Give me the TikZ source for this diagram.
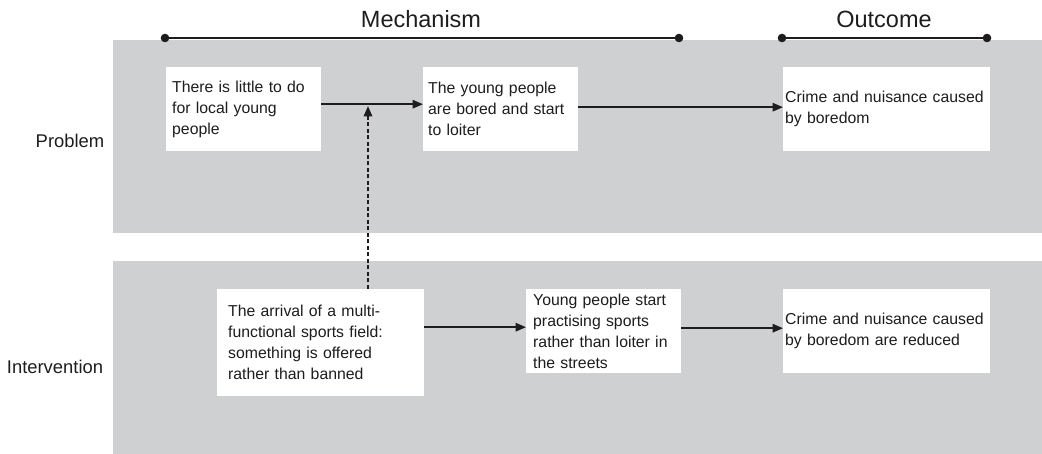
\documentclass[tikz,border=0pt]{standalone}
\usepackage{fontspec}
\setmainfont{Liberation Sans}
\usetikzlibrary{arrows.meta,calc}
\definecolor{band}{RGB}{207,208,210}
\definecolor{ink}{RGB}{30,28,29}
\begin{document}
\begin{tikzpicture}[x=1pt,y=-1pt,
  bandbox/.style={fill=band,draw=none},
  boxnode/.style={fill=white,draw=none,anchor=north west,align=left,inner ysep=0pt,
    text=ink,font=\fontsize{15.8}{21}\selectfont},
  title/.style={text=ink,font=\fontsize{23.5}{28}\selectfont,inner sep=0pt},
  rowlabel/.style={text=ink,font=\fontsize{18.4}{22}\selectfont,inner sep=0pt},
  arr/.style={draw=ink,line width=1.8pt,-{Triangle[length=10.5pt,width=8.5pt]}},
  dasharr/.style={draw=ink,line width=1.8pt,dash pattern=on 4pt off 2.5pt,-{Triangle[length=10.5pt,width=8.5pt]}},
  span/.style={draw=ink,line width=1.8pt},
  dot/.style={fill=ink}]
\useasboundingbox (0,0) rectangle (1042,454);
% bands
\fill[bandbox] (113,40) rectangle (1042,233);
\fill[bandbox] (113,261) rectangle (1042,454);
% titles
\node[title] (tm) at (421,19) {Mechanism};
\node[title] (to) at (884,19) {Outcome};
\coordinate (m1) at (165,38);
\coordinate (m2) at (679,38);
\coordinate (o1) at (782,38);
\coordinate (o2) at (987,38);
\draw[span] (m1) -- (m2);
\draw[span] (o1) -- (o2);
\foreach \p in {m1,m2,o1,o2} \fill[dot] (\p) circle (4.3pt);
% row labels
\node[rowlabel] (lp) at (70,141) {Problem};
\node[rowlabel] (li) at (55,367) {Intervention};
% boxes
\node[boxnode,minimum height=84pt,inner xsep=6pt,text width=143pt] (b1) at (166,67)
  {There is little to do\\for local young\\people};
\node[boxnode,minimum height=84pt,inner xsep=5pt,text width=145pt] (b2) at (423,67)
  {The young people\\are bored and start\\to loiter};
\node[boxnode,minimum height=84pt,inner xsep=2pt,text width=203pt] (b3) at (783,67)
  {Crime and nuisance caused\\by boredom};
\node[boxnode,minimum height=107pt,inner xsep=11pt,text width=185pt] (b4) at (217,289)
  {The arrival of a multi-\\functional sports field:\\something is offered\\rather than banned};
\node[boxnode,minimum height=84pt,inner xsep=7pt,text width=141pt] (b5) at (526,289)
  {Young people start\\practising sports\\rather than loiter in\\the streets};
\node[boxnode,minimum height=84pt,inner xsep=2pt,text width=203pt] (b6) at (783,289)
  {Crime and nuisance caused\\by boredom are reduced};
% connectors
\draw[arr] ([yshift=5pt]b1.east) -- ([yshift=5pt]b1.east -| b2.west);
\draw[arr] ([yshift=2pt]b2.east) -- ([yshift=2pt]b2.east -| b3.west);
\draw[arr] ([yshift=15.5pt]b4.east) -- ([yshift=15.5pt]b4.east -| b5.west);
\draw[arr] ([yshift=3pt]b5.east) -- ([yshift=3pt]b5.east -| b6.west);
\coordinate (jt) at (368,106);
\draw[dasharr] (b4.north -| jt) -- (jt);
\end{tikzpicture}
\end{document}
